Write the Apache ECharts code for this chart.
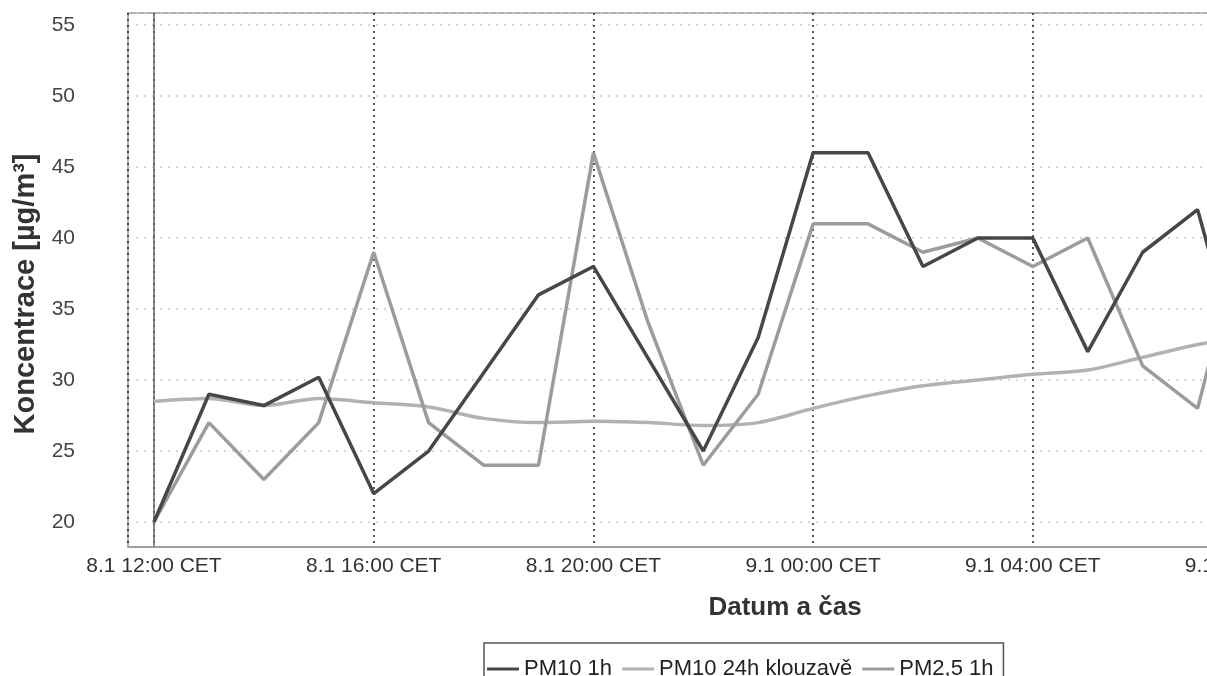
<!DOCTYPE html>
<html>
<head>
<meta charset="utf-8">
<script src="https://cdn.jsdelivr.net/npm/echarts@6/dist/echarts.min.js"></script>
<style>
  html, body { margin: 0; padding: 0; background: #fff; }
  #chart { width: 1207px; height: 676px; }
</style>
</head>
<body>
<div id="chart"></div>
<script>
// hours after 8.1 12:00 CET
const hours = [0, 1, 2, 3, 4, 5, 6, 7, 8, 9, 10, 11, 12, 13, 14, 15, 16, 17, 18, 19, 20];

const pm10Hourly = [20, 29, 28.2, 30.2, 22, 25, 30.5, 36, 38, 31.5, 25, 33, 46, 46, 38, 40, 40, 32, 39, 42, 28];
const pm10Moving = [28.5, 28.7, 28.2, 28.7, 28.4, 28.1, 27.3, 27.0, 27.1, 27.0, 26.8, 27.0, 28.0, 28.9, 29.6, 30.0, 30.4, 30.7, 31.6, 32.5, 33.2];
const pm25Hourly = [20, 27, 23, 27, 39, 27, 24, 24, 46, 34, 24, 29, 41, 41, 39, 40, 38, 40, 31, 28, 43];

const seriesNames = ["PM10 1h", "PM10 24h klouzavě", "PM2,5 1h"];

const font = "Liberation Sans, Arial, sans-serif";

function pairs(values) {
  return hours.map(function (h, i) { return [h, values[i]]; });
}

function timeLabel(h) {
  const t = 12 + Math.round(h);
  const day = t >= 24 ? 9 : 8;
  const hh = String(t % 24).padStart(2, "0");
  return day + ".1 " + hh + ":00 CET";
}

const chart = echarts.init(document.getElementById("chart"));

const option = {
  backgroundColor: "#fff",
  animation: false,
  grid: {
    left: 128,
    top: 13,
    width: 1152,
    height: 534,
    outerBoundsMode: "none",
    containLabel: false,
    show: true,
    borderColor: "#9a9a9a",
    borderWidth: 1.5
  },
  xAxis: {
    type: "value",
    min: -0.473,
    max: 20.5,
    minInterval: 4,
    maxInterval: 4,
    axisLine: { lineStyle: { color: "#999", width: 1.5 } },
    axisTick: { show: false },
    axisLabel: {
      showMinLabel: false,
      showMaxLabel: false,
      margin: 9,
      fontSize: 21,
      fontFamily: font,
      color: "#333",
      formatter: timeLabel
    },
    splitLine: { show: true, lineStyle: { color: "#222", type: [2, 4], width: 1.5 } }
  },
  yAxis: {
    type: "value",
    min: 18.24,
    max: 55.85,
    minInterval: 5,
    maxInterval: 5,
    axisLine: { show: true, lineStyle: { color: "#666", width: 1.5 } },
    axisTick: { show: false },
    axisLabel: {
      showMinLabel: false,
      showMaxLabel: false,
      margin: 53,
      fontSize: 21,
      fontFamily: font,
      color: "#444"
    },
    splitLine: { show: true, lineStyle: { color: "#c8c8c8", type: [2, 6], width: 1.5 } }
  },
  legend: {
    left: 484,
    top: 643,
    icon: "rect",
    itemWidth: 32,
    itemHeight: 3,
    itemGap: 10,
    padding: [15, 10, 20, 3],
    borderColor: "#555",
    borderWidth: 1.5,
    textStyle: { fontSize: 22, fontFamily: font, color: "#222" },
    data: seriesNames
  },
  graphic: [
    {
      type: "text",
      x: 785,
      y: 608,
      style: {
        text: "Datum a čas",
        font: "bold 26px " + font,
        fill: "#333",
        textAlign: "center",
        textVerticalAlign: "middle"
      }
    },
    {
      type: "text",
      x: 26,
      y: 294,
      rotation: Math.PI / 2,
      style: {
        text: "Koncentrace [µg/m³]",
        font: "bold 29px " + font,
        fill: "#333",
        textAlign: "center",
        textVerticalAlign: "middle"
      }
    }
  ],
  series: [
    {
      name: seriesNames[1],
      type: "line",
      data: pairs(pm10Moving),
      showSymbol: false,
      smooth: 0.3,
      lineStyle: { color: "#b2b2b2", width: 3.5 },
      itemStyle: { color: "#b2b2b2" }
    },
    {
      name: seriesNames[2],
      type: "line",
      data: pairs(pm25Hourly),
      showSymbol: false,
      lineStyle: { color: "#9c9c9c", width: 3.5 },
      itemStyle: { color: "#9c9c9c" }
    },
    {
      name: seriesNames[0],
      type: "line",
      data: pairs(pm10Hourly),
      showSymbol: false,
      lineStyle: { color: "#474747", width: 3.5 },
      itemStyle: { color: "#474747" }
    }
  ]
};

chart.setOption(option);
</script>
</body>
</html>
